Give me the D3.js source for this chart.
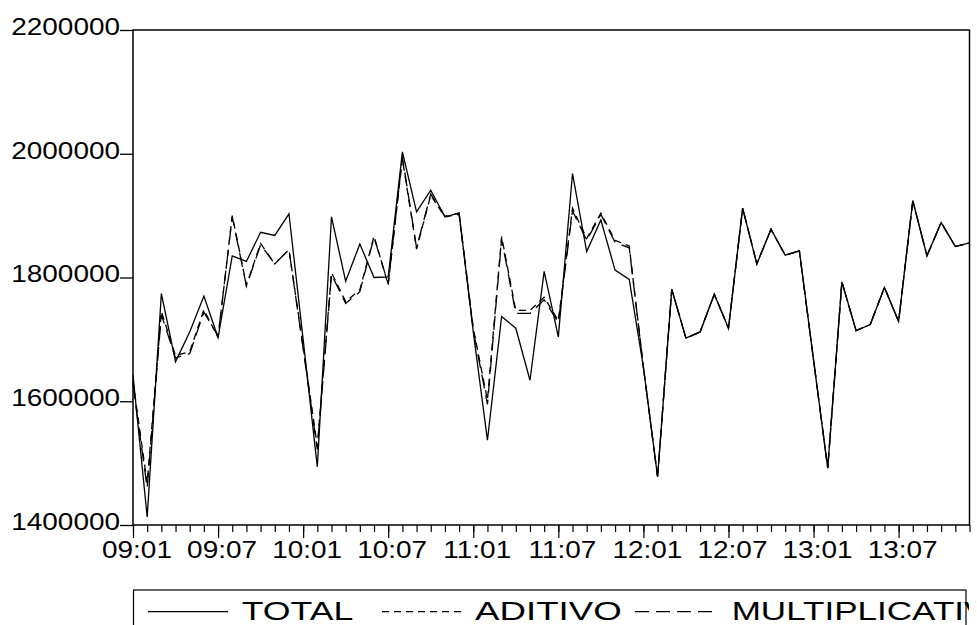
<!DOCTYPE html>
<html>
<head>
<meta charset="utf-8">
<script src="https://cdn.jsdelivr.net/npm/d3@7"></script>
<style>
  html, body { margin: 0; padding: 0; background: #fff; }
  svg { display: block; font-family: "Liberation Sans", Arial, sans-serif; }
</style>
</head>
<body>
<svg id="chart" width="977" height="625"></svg>
<script>
// Monthly periods 09:01 … 13:12
const years = ["09", "10", "11", "12", "13"];
const months = ["01","02","03","04","05","06","07","08","09","10","11","12"];
const periods = years.flatMap(yy => months.map(m => `${yy}:${m}`));

// Labelled ticks on the time axis
const tickLabels = ["09:01", "09:07", "10:01", "10:07", "11:01", "11:07", "12:01", "12:07", "13:01", "13:07"];
const yTicks = [1400000, 1600000, 1800000, 2000000, 2200000];

// Observed series
const total = [
  1642000, 1413000, 1774000, 1664000, 1712000, 1770000, 1703000, 1835000, 1826000, 1873000, 1868000, 1903000,
  1700000, 1494000, 1898000, 1794000, 1854000, 1800000, 1801000, 2003000, 1906000, 1941000, 1898000, 1904000,
  1712000, 1537000, 1737000, 1718000, 1634000, 1810000, 1704000, 1968000, 1842000, 1893000, 1812000, 1797000,
  1655000, 1478000, 1781000, 1702000, 1712000, 1773000, 1718000, 1912000, 1822000, 1878000, 1836000, 1843000,
  1667000, 1492000, 1793000, 1714000, 1724000, 1784000, 1729000, 1924000, 1835000, 1889000, 1850000, 1856000
];

// Additive Holt-Winters
const aditivo = [
  1632000, 1468000, 1745000, 1674000, 1680000, 1748000, 1703000, 1900000, 1788000, 1855000, 1822000, 1845000,
  1688000, 1527000, 1808000, 1761000, 1780000, 1867000, 1788000, 1992000, 1846000, 1933000, 1898000, 1902000,
  1718000, 1602000, 1866000, 1747000, 1747000, 1768000, 1730000, 1912000, 1863000, 1904000, 1860000, 1851000,
  1655000, 1478000, 1781000, 1702000, 1712000, 1773000, 1718000, 1912000, 1822000, 1878000, 1836000, 1843000,
  1667000, 1492000, 1793000, 1714000, 1724000, 1784000, 1729000, 1924000, 1835000, 1889000, 1850000, 1856000
];

// Multiplicative Holt-Winters
const multiplicativo = [
  1626000, 1460000, 1740000, 1670000, 1677000, 1744000, 1705000, 1898000, 1786000, 1853000, 1822000, 1845000,
  1685000, 1522000, 1805000, 1758000, 1777000, 1865000, 1790000, 1995000, 1848000, 1935000, 1899000, 1904000,
  1715000, 1595000, 1862000, 1742000, 1742000, 1764000, 1727000, 1908000, 1860000, 1902000, 1857000, 1848000,
  1655000, 1478000, 1781000, 1702000, 1712000, 1773000, 1718000, 1912000, 1822000, 1878000, 1836000, 1843000,
  1667000, 1492000, 1793000, 1714000, 1724000, 1784000, 1729000, 1924000, 1835000, 1889000, 1850000, 1856000
];

const seriesNames = ["TOTAL", "ADITIVO", "MULTIPLICATIVO"];
const seriesValues = [total, aditivo, multiplicativo];
const seriesDash = [null, "7,5", "14,7"];

const svg = d3.select("#chart");
const plotLeft = 133, plotRight = 969.5, plotTop = 30, plotBottom = 525;
const SX = 1.2; // wide lettering of the axis labels

const x = d3.scalePoint().domain(periods).range([plotLeft, plotRight]);
const y = d3.scaleLinear().domain([1400000, 2200000]).range([plotBottom, plotTop]);

// Y axis
const yAxis = svg.append("g")
  .attr("transform", `translate(${plotLeft},0)`)
  .call(d3.axisLeft(y).tickValues(yTicks).tickSize(13).tickFormat(d3.format("d")));
yAxis.select(".domain").remove();
yAxis.selectAll("line").attr("stroke", "#000").attr("stroke-width", 1.3);
yAxis.selectAll("text")
  .attr("x", null).attr("dy", null).attr("y", null)
  .attr("fill", "#000")
  .style("font-size", "23.3px")
  .attr("text-anchor", "end")
  .attr("transform", `translate(-13,4.3) scale(${SX},1)`);

// X axis: a tick for every month
const xMinor = svg.append("g")
  .attr("transform", `translate(0,${plotBottom})`)
  .call(d3.axisBottom(x).tickValues(periods).tickSize(7).tickFormat(""));
xMinor.select(".domain").remove();
xMinor.selectAll("line").attr("stroke", "#000").attr("stroke-width", 1.2);

// X axis: labelled half-year ticks
const xMajor = svg.append("g")
  .attr("transform", `translate(0,${plotBottom})`)
  .call(d3.axisBottom(x).tickValues(tickLabels).tickSize(13));
xMajor.select(".domain").remove();
xMajor.selectAll("line").attr("stroke", "#000").attr("stroke-width", 1.2);
xMajor.selectAll("text")
  .attr("x", null).attr("dy", null).attr("y", null)
  .attr("fill", "#000")
  .style("font-size", "23.3px")
  .attr("text-anchor", "middle")
  .attr("transform", `translate(3.5,33.3) scale(${SX},1)`);

// Series lines
const line = d3.line().x((d, i) => x(periods[i])).y(d => y(d));
seriesValues.forEach((vals, k) => {
  svg.append("path")
    .datum(vals)
    .attr("fill", "none")
    .attr("stroke", "#000")
    .attr("stroke-width", 1.3)
    .attr("stroke-linejoin", "miter")
    .attr("stroke-dasharray", seriesDash[k])
    .attr("d", line);
});

// Plot frame
svg.append("rect")
  .attr("x", plotLeft).attr("y", plotTop)
  .attr("width", plotRight - plotLeft).attr("height", plotBottom - plotTop)
  .attr("fill", "none").attr("stroke", "#000").attr("stroke-width", 1.5);

// Legend
const legendClip = svg.append("clipPath").attr("id", "legclip");
legendClip.append("rect").attr("x", 0).attr("y", 0).attr("width", 969).attr("height", 625);

const legend = svg.append("g").attr("clip-path", "url(#legclip)");
legend.append("rect")
  .attr("x", 133.5).attr("y", 590)
  .attr("width", 966 - 133.5).attr("height", 60)
  .attr("fill", "none").attr("stroke", "#000").attr("stroke-width", 1.2);

const legendSample = [[148, 228], [382, 462], [635, 712]];
const legendText = [[241.7, 111.6], [475, 146.7], [731.7, 283]];
seriesNames.forEach((name, k) => {
  legend.append("line")
    .attr("x1", legendSample[k][0]).attr("x2", legendSample[k][1])
    .attr("y1", 611.7).attr("y2", 611.7)
    .attr("stroke", "#000").attr("stroke-width", 1.2)
    .attr("stroke-dasharray", seriesDash[k]);
  legend.append("text")
    .attr("x", legendText[k][0]).attr("y", 620)
    .attr("textLength", legendText[k][1])
    .attr("lengthAdjust", "spacingAndGlyphs")
    .style("font-size", "25.6px")
    .attr("fill", "#000")
    .text(name);
});
</script>
</body>
</html>
